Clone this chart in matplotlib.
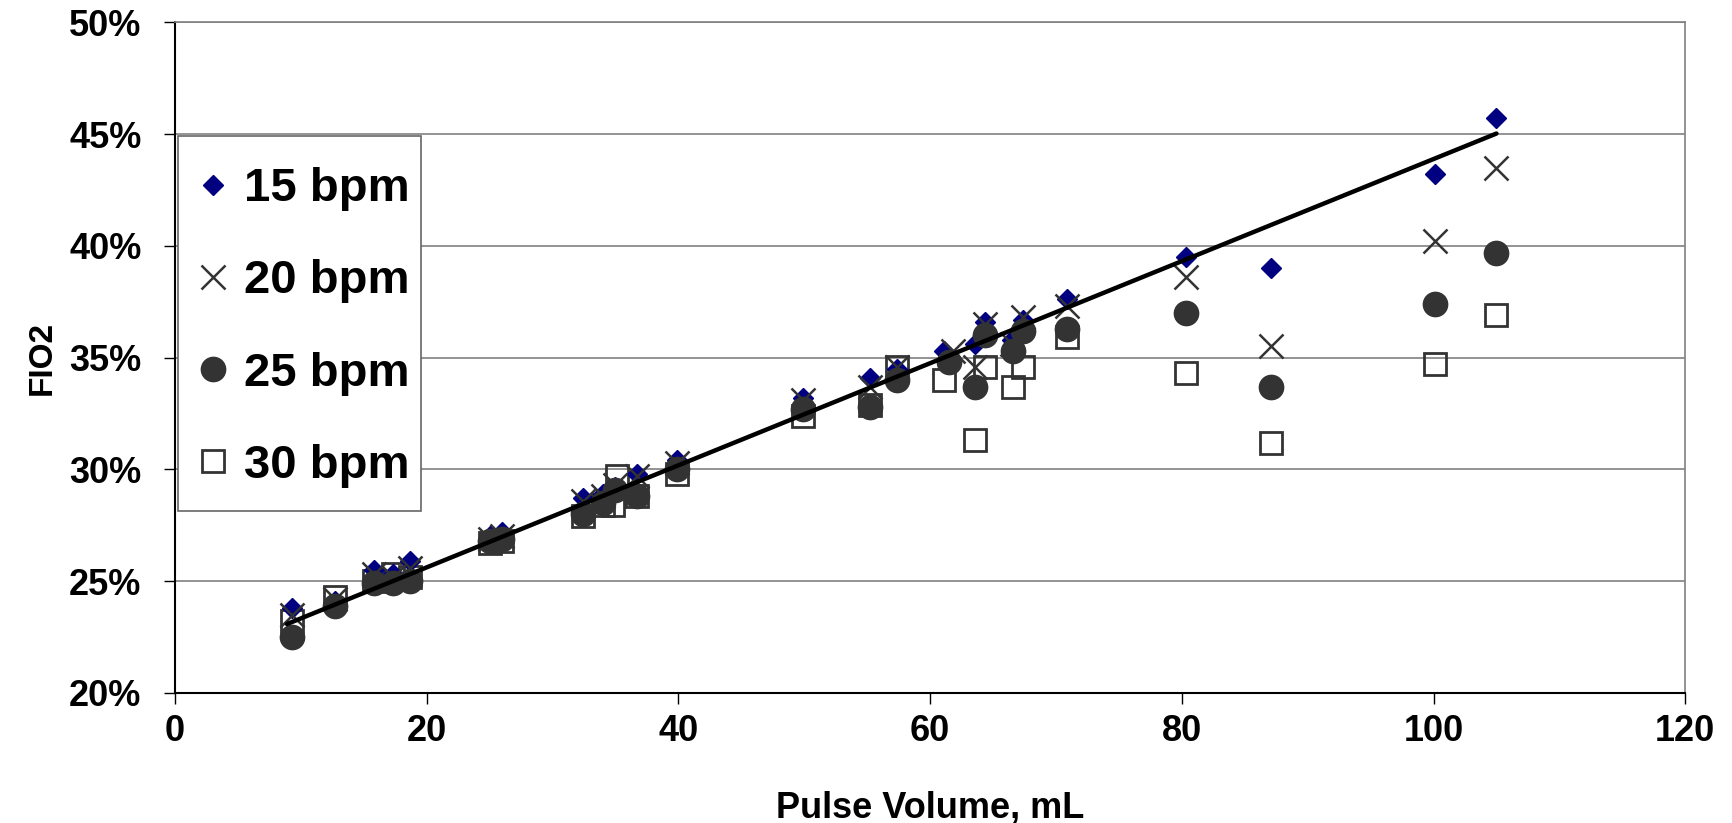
import numpy as np
import matplotlib
matplotlib.use('Agg')
import matplotlib.pyplot as plt
from matplotlib.patches import Rectangle
from matplotlib.ticker import FuncFormatter, MultipleLocator

plt.rcParams['font.family'] = ['Liberation Sans', 'DejaVu Sans']
plt.rcParams['font.weight'] = 'bold'

# --- data (FIO2 in %, pulse volume in mL) ---
x_15 = [9.3, 12.7, 15.8, 17.3, 18.7, 25.0, 26.0, 32.4, 34.0, 35.0, 36.7, 39.9,
        49.9, 55.2, 57.4, 61.1, 63.6, 64.4, 66.5, 67.4, 70.9, 80.3, 87.1, 100.1, 105.0]
y_15 = [23.8, 24.1, 25.5, 25.3, 25.9, 27.0, 27.2, 28.7, 28.9, 29.2, 29.8, 30.4,
        33.2, 34.1, 34.5, 35.3, 35.6, 36.6, 35.8, 36.7, 37.6, 39.5, 39.0, 43.2, 45.7]

x_20 = [9.3, 12.7, 15.8, 17.3, 18.7, 25.0, 26.0, 32.4, 34.0, 35.0, 36.7, 39.9,
        49.9, 55.2, 57.4, 61.8, 63.6, 64.4, 66.5, 67.4, 70.9, 80.3, 87.1, 100.1, 105.0]
y_20 = [23.5, 24.2, 25.3, 25.2, 25.6, 26.9, 27.0, 28.6, 28.8, 29.3, 29.7, 30.3,
        33.1, 33.7, 34.6, 35.3, 34.6, 36.5, 35.6, 36.8, 37.3, 38.6, 35.5, 40.2, 43.5]

x_25 = [9.3, 12.7, 15.8, 17.3, 18.7, 25.0, 26.0, 32.4, 34.0, 35.0, 36.7, 39.9,
        49.9, 55.2, 57.4, 61.5, 63.6, 64.4, 66.6, 67.4, 70.9, 80.3, 87.1, 100.1, 105.0]
y_25 = [22.5, 23.9, 24.9, 24.9, 25.0, 26.8, 26.9, 28.0, 28.5, 29.1, 28.8, 30.0,
        32.7, 32.8, 34.0, 34.8, 33.7, 36.0, 35.3, 36.2, 36.3, 37.0, 33.7, 37.4, 39.7]

x_30 = [9.3, 12.7, 15.8, 17.3, 18.7, 25.0, 26.0, 32.4, 34.0, 34.8, 35.1, 36.7, 39.9,
        49.9, 55.2, 57.4, 61.1, 63.6, 64.4, 66.6, 67.4, 70.9, 80.3, 87.1, 100.1, 105.0]
y_30 = [23.2, 24.3, 25.0, 25.3, 25.2, 26.7, 26.8, 27.9, 28.4, 28.4, 29.7, 28.8, 29.8,
        32.4, 32.9, 34.6, 34.0, 31.3, 34.6, 33.7, 34.6, 35.9, 34.3, 31.2, 34.7, 36.9]

# linear trendline
fit_slope = 0.2283
fit_intercept = 21.05
fit_range = [8.9, 105.0]

fig = plt.figure(figsize=(17.32, 8.23), dpi=100)
ax = fig.add_axes([0.101, 0.158, 0.872, 0.815])

dark = '#333333'
ax.plot(x_30, y_30, 's', ms=16.5, mfc='none', mec=dark, mew=2.0, ls='none', label='30 bpm', zorder=3)
ax.plot(x_15, y_15, 'D', ms=10, color='#000080', ls='none', label='15 bpm', zorder=4)
ax.plot(x_20, y_20, 'x', ms=17, color=dark, mew=1.8, ls='none', label='20 bpm', zorder=5)
ax.plot(x_25, y_25, 'o', ms=17.5, color=dark, ls='none', label='25 bpm', zorder=6)

fx = np.array(fit_range)
ax.plot(fx, fit_slope * fx + fit_intercept, color='black', lw=3.2, solid_capstyle='round', zorder=7)

ax.set_xlim(0, 120)
ax.set_ylim(20, 50)
ax.xaxis.set_major_locator(MultipleLocator(20))
ax.yaxis.set_major_locator(MultipleLocator(5))
ax.yaxis.set_major_formatter(FuncFormatter(lambda v, p: f'{v:.0f}%'))
ax.tick_params(axis='both', direction='out', length=8, width=1, labelsize=26)
ax.tick_params(axis='x', pad=7)
ax.tick_params(axis='y', pad=16)
ax.grid(axis='y', color='#808080', lw=1.2)
ax.set_axisbelow(True)

for s in ['top', 'right']:
    ax.spines[s].set_color('#808080')
    ax.spines[s].set_linewidth(1.2)
for s in ['left', 'bottom']:
    ax.spines[s].set_color('black')
    ax.spines[s].set_linewidth(1.5)

ax.set_xlabel('Pulse Volume, mL', fontsize=26, fontweight='bold', labelpad=30)
ax.set_ylabel('FIO2', fontsize=24, fontweight='bold', labelpad=8)

# legend frame drawn as its own box, entries placed inside it
ax.add_patch(Rectangle((0.002, 0.271), 0.161, 0.559, transform=ax.transAxes,
                       facecolor='white', edgecolor='#666666', lw=1.2, zorder=8))
handles, labels = ax.get_legend_handles_labels()
order = [1, 2, 3, 0]
leg = ax.legend([handles[i] for i in order], [labels[i] for i in order],
                loc='upper left', bbox_to_anchor=(0.002, 0.805), fontsize=34,
                frameon=False, borderpad=0.3, handlelength=0.9, handletextpad=0.2,
                labelspacing=1.02, borderaxespad=0)
leg.set_zorder(9)

fig.savefig('out.png', dpi=100)
